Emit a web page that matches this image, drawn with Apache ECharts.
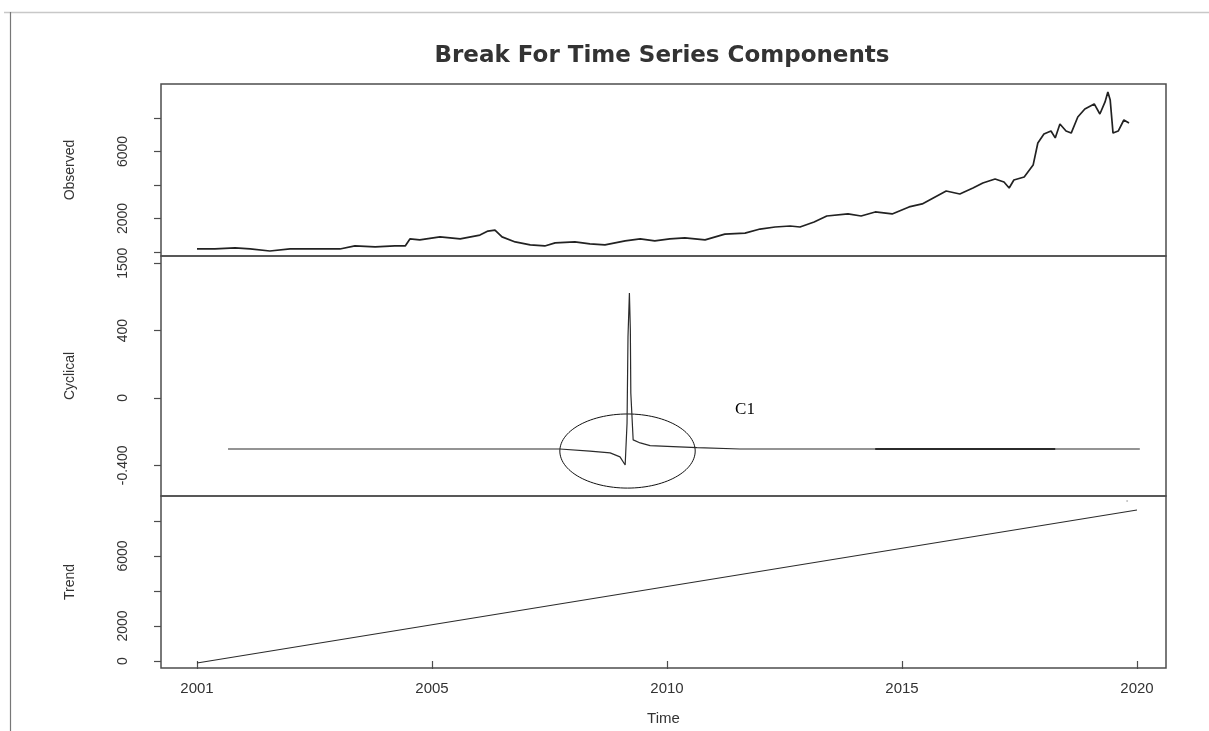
<!DOCTYPE html>
<html>
<head>
<meta charset="utf-8">
<title>Break For Time Series Components</title>
<script src="https://cdn.jsdelivr.net/npm/echarts@6/dist/echarts.min.js"></script>
<style>
  html, body { margin: 0; padding: 0; background: #ffffff; }
  #chart { width: 1209px; height: 731px; }
</style>
</head>
<body>
<div id="chart"></div>
<script>
// ---- Observed series (decimal year, value) ----
const obsYears = [2000.00, 2000.38, 2000.81, 2001.13, 2001.55, 2001.98, 2002.62, 2003.04, 2003.36, 2003.79,
  2004.21, 2004.43, 2004.53, 2004.74, 2005.17, 2005.60, 2006.02, 2006.19, 2006.34, 2006.49,
  2006.77, 2007.09, 2007.40, 2007.62, 2008.04, 2008.36, 2008.68, 2009.11, 2009.43, 2009.74,
  2010.06, 2010.38, 2010.81, 2011.23, 2011.66, 2011.98, 2012.30, 2012.62, 2012.83, 2013.13,
  2013.40, 2013.85, 2014.13, 2014.43, 2014.79, 2015.15, 2015.43, 2015.94, 2016.23, 2016.51,
  2016.72, 2016.98, 2017.17, 2017.28, 2017.38, 2017.60, 2017.79, 2017.89, 2018.02, 2018.17,
  2018.26, 2018.36, 2018.49, 2018.60, 2018.74, 2018.89, 2019.09, 2019.21, 2019.32, 2019.38,
  2019.43, 2019.49, 2019.60, 2019.72, 2019.83];
const obsValues = [180, 180, 240, 180, 60, 180, 180, 180, 360, 300,
  360, 360, 780, 720, 900, 780, 1010, 1250, 1310, 900,
  600, 420, 360, 540, 600, 480, 420, 660, 780, 660,
  780, 840, 720, 1070, 1130, 1370, 1490, 1550, 1490, 1790,
  2150, 2270, 2150, 2390, 2270, 2690, 2870, 3640, 3460, 3820,
  4120, 4360, 4180, 3820, 4300, 4480, 5190, 6510, 7040, 7220,
  6810, 7640, 7220, 7100, 8060, 8540, 8840, 8240, 8960, 9550,
  9070, 7100, 7220, 7880, 7700];

// ---- Cyclical component ----
const cycYears = [2000.66, 2007.72, 2008.36, 2008.79, 2009.00, 2009.11, 2009.15, 2009.17, 2009.20,
  2009.22, 2009.23, 2009.28, 2009.43, 2009.64, 2010.13, 2010.64, 2011.55, 2020.06];
const cycValues = [-303, -303, -315, -326, -350, -398, -148, 362, 623,
  404, 30, -249, -267, -283, -289, -295, -303, -303];
// denser stretch of the cyclical line
const cycDenseYears = [2014.43, 2018.26];
const cycDenseValues = [-303, -303];

// ---- Trend component ----
const trendYears = [2000.0, 2020.0];
const trendValues = [-110, 8630];
const trendStrayYears = [2019.79];
const trendStrayValues = [9140];

// ---- Break annotation (centre year, centre value, half-width in years, half-height in value) ----
const breakEllipse = [2009.16, -315, 1.44, 220];
const breakLabel = ['C1'];
const breakLabelPos = [2011.66, -71];

// ---- Axis ticks and labels ----
const xTickValues = [2000, 2005, 2010, 2015, 2020];
const xTickLabels = ['2001', '2005', '2010', '2015', '2020'];

const obsTickValues = [0, 2000, 4000, 6000, 8000];
const obsLabelValues = [2000, 6000];
const obsLabelTexts = ['2000', '6000'];

const cycTickValues = [-400, 0, 400, 800];
const cycLabelValues = [-400, 0, 400, 800];
const cycLabelTexts = ['-0.400', '0', '400', '1500'];

const trendTickValues = [0, 2000, 4000, 6000, 8000];
const trendLabelValues = [0, 2000, 6000];
const trendLabelTexts = ['0', '2000', '6000'];

const panelNames = ['Observed', 'Cyclical', 'Trend'];

const pairs = (xs, ys) => xs.map((x, i) => [x, ys[i]]);
const lookup = (vals, texts) => {
  const m = {};
  vals.forEach((v, i) => { m[String(v)] = texts[i]; });
  return v => (m[String(v)] !== undefined ? m[String(v)] : '');
};

const FONT = 'Liberation Sans, Arial, sans-serif';
const TEXT = '#333333';
const FRAME = '#4d4d4d';

const X_MIN = 1999.234, X_MAX = 2020.617;

const grids = [
  { left: 161, right: 43, top: 84, height: 172 },
  { left: 161, right: 43, top: 256, height: 240 },
  { left: 161, right: 43, top: 496, height: 172 }
].map(g => Object.assign(g, { show: true, borderColor: FRAME, borderWidth: 1.5, backgroundColor: 'transparent' }));

function yAxisFor(gridIndex, min, max, ticks, labVals, labTexts, name) {
  return {
    gridIndex, type: 'value', min, max,
    name, nameLocation: 'middle', nameGap: 84,
    nameTextStyle: { fontFamily: FONT, fontSize: 14, color: TEXT },
    splitLine: { show: false },
    axisLine: { show: false },
    axisTick: { show: true, customValues: ticks, length: 7, lineStyle: { color: FRAME, width: 1.2 } },
    axisLabel: {
      show: true, customValues: labVals, rotate: 90, margin: 31,
      formatter: lookup(labVals, labTexts),
      fontFamily: FONT, fontSize: 14, color: TEXT
    }
  };
}

function hiddenX(gridIndex) {
  return { gridIndex, type: 'value', min: X_MIN, max: X_MAX, show: false, splitLine: { show: false } };
}

const option = {
  animation: false,
  backgroundColor: '#ffffff',
  title: {
    text: 'Break For Time Series Components',
    left: 662, top: 45, padding: 0, textAlign: 'center',
    textStyle: { fontFamily: 'DejaVu Sans, sans-serif', fontWeight: 'bold', fontSize: 23, color: TEXT }
  },
  graphic: [
    { type: 'line', silent: true, shape: { x1: 4, y1: 12.5, x2: 1209, y2: 12.5 }, style: { stroke: '#c8c8c8', lineWidth: 1.5 } },
    { type: 'line', silent: true, shape: { x1: 10.5, y1: 12, x2: 10.5, y2: 731 }, style: { stroke: '#777777', lineWidth: 1.2 } }
  ],
  grid: grids,
  xAxis: [
    hiddenX(0),
    hiddenX(1),
    {
      gridIndex: 2, type: 'value', min: X_MIN, max: X_MAX,
      name: 'Time', nameLocation: 'middle', nameGap: 43,
      nameTextStyle: { fontFamily: FONT, fontSize: 15, color: TEXT },
      splitLine: { show: false },
      axisLine: { show: false },
      axisTick: { show: true, customValues: xTickValues, length: 8, lineStyle: { color: FRAME, width: 1.2 } },
      axisLabel: {
        show: true, customValues: xTickValues, margin: 13,
        formatter: lookup(xTickValues, xTickLabels),
        fontFamily: FONT, fontSize: 15, color: TEXT
      }
    }
  ],
  yAxis: [
    yAxisFor(0, -240, 10030, obsTickValues, obsLabelValues, obsLabelTexts, panelNames[0]),
    yAxisFor(1, -582, 843, cycTickValues, cycLabelValues, cycLabelTexts, panelNames[1]),
    yAxisFor(2, -400, 9430, trendTickValues, trendLabelValues, trendLabelTexts, panelNames[2])
  ],
  series: [
    {
      name: panelNames[0], type: 'line', xAxisIndex: 0, yAxisIndex: 0,
      data: pairs(obsYears, obsValues), showSymbol: false, symbol: 'none',
      lineStyle: { color: '#222222', width: 1.7 }
    },
    {
      name: panelNames[1], type: 'line', xAxisIndex: 1, yAxisIndex: 1,
      data: pairs(cycYears, cycValues), showSymbol: false, symbol: 'none',
      lineStyle: { color: '#2b2b2b', width: 1.2 }
    },
    {
      name: panelNames[1] + ' dense', type: 'line', xAxisIndex: 1, yAxisIndex: 1,
      data: pairs(cycDenseYears, cycDenseValues), showSymbol: false, symbol: 'none',
      lineStyle: { color: '#2b2b2b', width: 2 }
    },
    {
      name: panelNames[2], type: 'line', xAxisIndex: 2, yAxisIndex: 2,
      data: pairs(trendYears, trendValues), showSymbol: false, symbol: 'none',
      lineStyle: { color: '#2b2b2b', width: 1.1 }
    },
    {
      name: panelNames[2] + ' point', type: 'scatter', xAxisIndex: 2, yAxisIndex: 2,
      data: pairs(trendStrayYears, trendStrayValues), symbolSize: 2,
      itemStyle: { color: '#b0b0b0' }
    },
    {
      name: 'break', type: 'custom', xAxisIndex: 1, yAxisIndex: 1,
      data: [breakEllipse],
      silent: true,
      renderItem: function (params, api) {
        const c = api.coord([api.value(0), api.value(1)]);
        const rx = api.size([api.value(2), 0])[0];
        const ry = api.size([0, api.value(3)])[1];
        const pts = [];
        for (let i = 0; i < 120; i++) {
          const t = (i / 120) * Math.PI * 2;
          pts.push([c[0] + rx * Math.cos(t), c[1] + ry * Math.sin(t)]);
        }
        const lp = api.coord(breakLabelPos);
        return {
          type: 'group',
          children: [
            { type: 'polygon', shape: { points: pts }, style: { fill: 'none', stroke: '#111111', lineWidth: 1 } },
            {
              type: 'text', x: lp[0], y: lp[1],
              style: {
                text: breakLabel[0], fill: '#000000',
                font: '17px "Liberation Serif", "Times New Roman", serif',
                align: 'center', verticalAlign: 'middle'
              }
            }
          ]
        };
      }
    }
  ]
};

const chart = echarts.init(document.getElementById('chart'), null, { renderer: 'canvas' });
chart.setOption(option);
</script>
</body>
</html>
